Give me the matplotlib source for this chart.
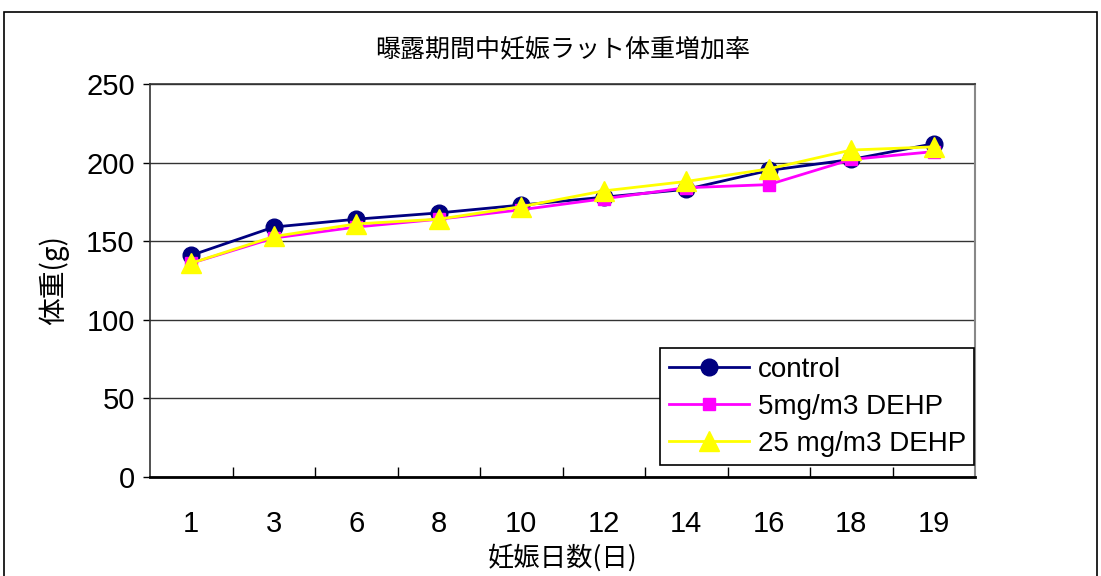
import matplotlib.pyplot as plt
from matplotlib.patches import Rectangle

days = ['1', '3', '6', '8', '10', '12', '14', '16', '18', '19']
control = [141, 159, 164, 168, 173, 178, 183, 195, 202, 212]
dehp_5 = [136, 152, 159, 164, 170, 177, 184, 186, 202, 207]
dehp_25 = [136, 153, 161, 164, 172, 182, 188, 196, 208, 210]

jp = ['Noto Sans CJK JP', 'DejaVu Sans']


def main():
    plt.rcParams['font.family'] = ['Liberation Sans', 'Noto Sans CJK JP']

    fig = plt.figure(figsize=(11.01, 5.76), dpi=100)
    fig.patches.append(Rectangle((4 / 1101, -0.1), 1093 / 1101, 1.1 - 12 / 576,
                                 transform=fig.transFigure, fill=False,
                                 edgecolor='black', linewidth=1.2))

    ax = fig.add_axes([150 / 1101, 1 - 477 / 576, 825 / 1101, 393 / 576])
    x = list(range(len(days)))

    ax.plot(x, control, color='#000080', marker='o', markersize=12,
            linewidth=2, label='control', zorder=3)
    ax.plot(x, dehp_5, color='#ff00ff', marker='s', markersize=8,
            linewidth=2, label='5mg/m3 DEHP', zorder=4)
    ax.plot(x, dehp_25, color='#ffff00', marker='^', markersize=14,
            linewidth=2, label='25 mg/m3 DEHP', zorder=5)

    ax.set_xlim(-0.5, len(days) - 0.5)
    ax.set_ylim(0, 250)
    ax.set_yticks([0, 50, 100, 150, 200, 250])
    ax.set_xticks(x)
    ax.set_xticklabels(days)
    ax.set_xticks([i + 0.5 for i in x[:-1]], minor=True)
    ax.tick_params(axis='x', which='major', length=0, pad=24, labelsize=21)
    ax.tick_params(axis='x', which='minor', direction='in', length=7, width=1)
    ax.tick_params(axis='y', direction='out', length=5, width=1, labelsize=21, pad=6)
    ax.yaxis.grid(True, color='#333333', linewidth=1)
    ax.set_axisbelow(True)

    for side in ['left', 'bottom', 'top']:
        ax.spines[side].set_color('#333333')
        ax.spines[side].set_linewidth(1.2)
    ax.spines['bottom'].set_color('black')
    ax.spines['bottom'].set_linewidth(2)
    ax.spines['right'].set_color('#888888')
    ax.spines['right'].set_linewidth(1.5)

    ax.set_title('曝露期間中妊娠ラット体重増加率', family=jp, fontsize=18, pad=20)
    ax.set_xlabel('妊娠日数(日)', family=jp, fontsize=19, labelpad=4)
    ax.set_ylabel('体重(g)', family=jp, fontsize=20, labelpad=12)

    leg = ax.legend(loc='lower right', bbox_to_anchor=(0.999, 0.03),
                    borderaxespad=0, fancybox=False, framealpha=1,
                    edgecolor='black', fontsize=20, handlelength=2.9,
                    labelspacing=0.4, borderpad=0.3, handletextpad=0.3,
                    markerscale=1.0)
    leg.get_frame().set_linewidth(1.2)

    plt.savefig('out.png', dpi=100)


if __name__ == "__main__":
    main()
